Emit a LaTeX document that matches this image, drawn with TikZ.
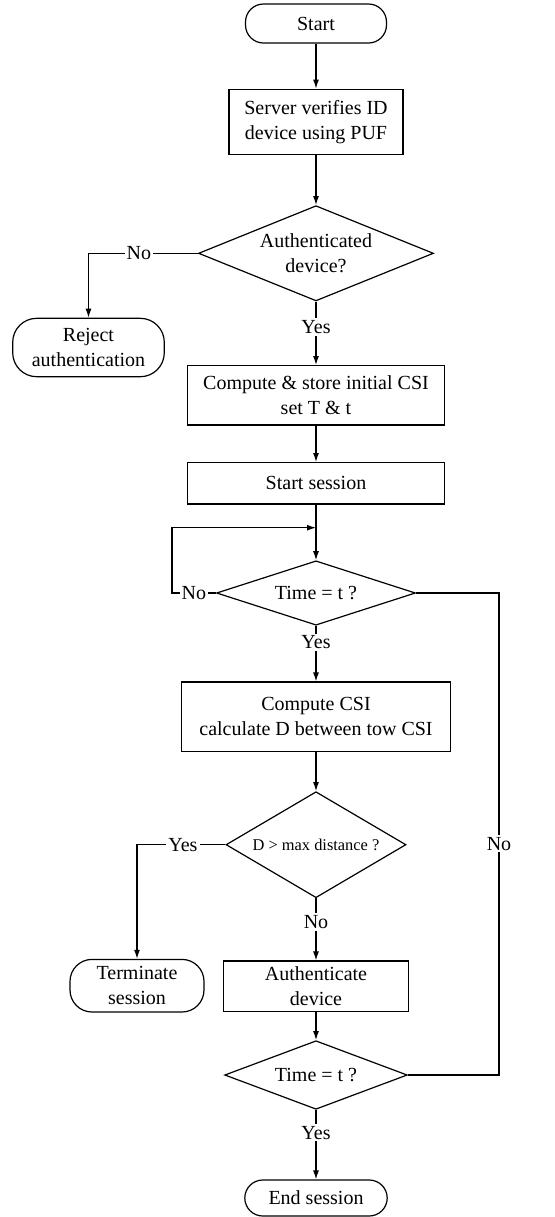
\documentclass[tikz,border=0pt]{standalone}
\usepackage{fontspec}
\setmainfont{Liberation Serif}
\usepackage{tikz}
\usetikzlibrary{shapes.geometric,arrows.meta}

\begin{document}
\begin{tikzpicture}[x=0.5pt,y=-0.5pt,line width=0.6pt,>={Latex[length=4.5pt,width=3pt]},
  font=\fontsize{10}{12.5}\selectfont]
\tikzstyle{term}=[rectangle,draw,rounded corners=9pt,align=center,inner sep=1pt]
\tikzstyle{proc}=[rectangle,draw,align=center,inner sep=1pt]
\tikzstyle{decide}=[diamond,draw,align=center,inner sep=0pt,aspect=2]
\tikzstyle{lbl}=[fill=white,inner sep=1pt]
 \useasboundingbox (0,0) rectangle (555,1217);
 \node[term, minimum width=70.5pt, minimum height=19.5pt] (start) at (316,23.5) {Start};
 \node[proc, minimum width=87pt, minimum height=32.5pt] (server) at (316,121.7) {Server verifies ID\\device using PUF};
 \node[decide, minimum width=117.5pt, minimum height=46pt] (auth) at (316,253.3) {Authenticated\\device?};
 \node[term, rounded corners=12pt, minimum width=75.8pt, minimum height=29.2pt] (reject) at (88.5,347.5) {Reject\\authentication};
 \node[proc, minimum width=128.3pt, minimum height=29.7pt] (store) at (316,395.3) {Compute \& store initial CSI\\set T \& t};
 \node[proc, minimum width=128.3pt, minimum height=20.7pt] (session) at (316,483.3) {Start session};
 \node[decide, minimum width=99.5pt, minimum height=32.2pt] (time1) at (316,593) {Time = t ?};
 \node[proc, minimum width=134.8pt, minimum height=34.8pt] (csi) at (316,716.8) {Compute CSI\\calculate D between tow CSI};
 \node[decide, minimum width=90pt, minimum height=53pt, font=\fontsize{8.2}{10}\selectfont] (dist) at (316,844.7) {D \textgreater{} max distance ?};
 \node[term, rounded corners=11pt, minimum width=67pt, minimum height=26.3pt] (terminate) at (137,985.7) {Terminate\\session};
 \node[proc, minimum width=92.5pt, minimum height=25.2pt] (authdev) at (316,986.2) {Authenticate\\device};
 \node[decide, minimum width=91.3pt, minimum height=34.3pt] (time2) at (316,1075) {Time = t ?};
 \node[term, minimum width=71.2pt, minimum height=18pt] (endsess) at (316,1198) {End session};
 % loop and side corners
 \coordinate (loopin) at (316,527.7);
 \coordinate (loopc) at (172,593);
 \coordinate (rc1) at (499,593);
 \coordinate (rc2) at (499,1075);

 \draw [->] (start) -- (server);
 \draw [->] (server) -- (auth);
 \draw [->] (auth.west) -| node[lbl, pos=0.27] {No} (reject.north);
 \draw [->] (auth.south) -- node[lbl, pos=0.4] {Yes} (store.north);
 \draw [->] (store) -- (session);
 \draw [->] (session) -- (time1);
 \draw [->] (time1.west) -- node[lbl, pos=0.5] {No} (loopc) |- (loopin);
 \draw [->] (time1.south) -- node[lbl, pos=0.3] {Yes} (csi.north);
 \draw [->] (csi) -- (dist);
 \draw [->] (dist.west) -| node[lbl, pos=0.24] {Yes} (terminate.north);
 \draw [->] (dist.south) -- node[lbl, pos=0.38] {No} (authdev.north);
 \draw [->] (authdev) -- (time2);
 \draw [->] (time2.south) -- node[lbl, pos=0.33] {Yes} (endsess.north);
 \draw (time1.east) -- (rc1) -- node[lbl, pos=0.52] {No} (rc2) -- (time2.east);

\end{tikzpicture}
\end{document}
